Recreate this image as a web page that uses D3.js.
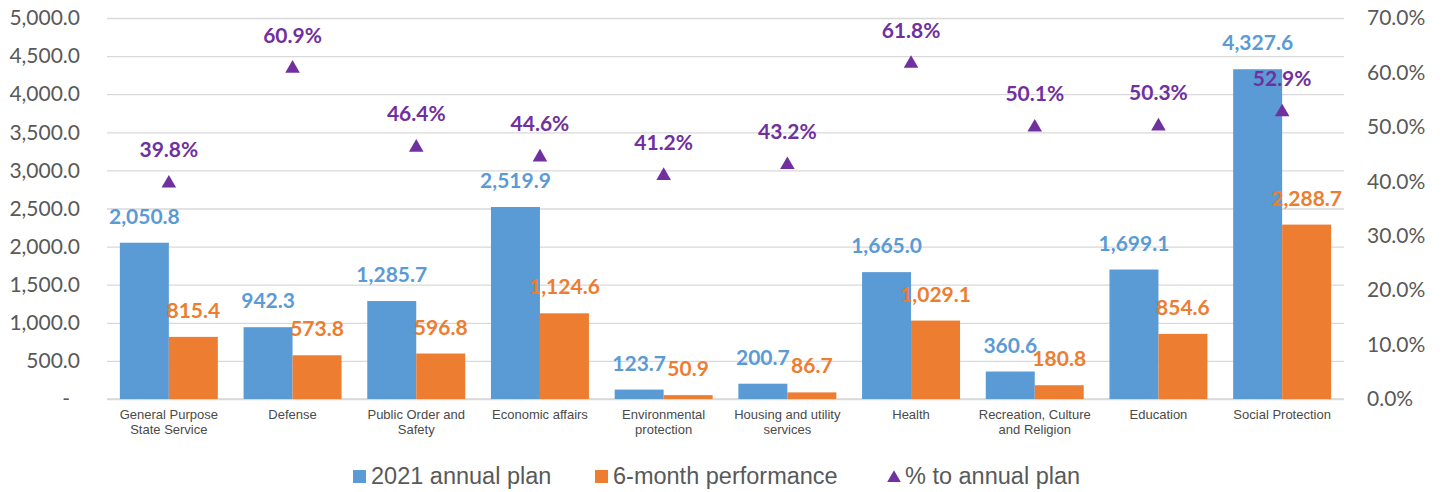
<!DOCTYPE html>
<html>
<head>
<meta charset="utf-8">
<script src="https://cdn.jsdelivr.net/npm/d3@7"></script>
<style>
  html, body { margin: 0; padding: 0; background: #ffffff; }
  svg { display: block; }
</style>
</head>
<body>
<svg id="chart" width="1443" height="492"></svg>
<script>
// Budget expenditure by function: 2021 annual plan vs 6-month performance
const categories = [
  "General Purpose State Service",
  "Defense",
  "Public Order and Safety",
  "Economic affairs",
  "Environmental protection",
  "Housing and utility services",
  "Health",
  "Recreation, Culture and Religion",
  "Education",
  "Social Protection"
];
const annualPlan = [2050.8, 942.3, 1285.7, 2519.9, 123.7, 200.7, 1665.0, 360.6, 1699.1, 4327.6];
const sixMonth   = [815.4, 573.8, 596.8, 1124.6, 50.9, 86.7, 1029.1, 180.8, 854.6, 2288.7];
const pctOfPlan  = [39.8, 60.9, 46.4, 44.6, 41.2, 43.2, 61.8, 50.1, 50.3, 52.9];

const leftTicks  = [0, 500, 1000, 1500, 2000, 2500, 3000, 3500, 4000, 4500, 5000];
const rightTicks = [0, 10, 20, 30, 40, 50, 60, 70];

const seriesNames = ["2021 annual plan", "6-month performance", "% to annual plan"];

const BLUE = "#5b9bd5", ORANGE = "#ed7d31", PURPLE = "#7030a0";
const GRID = "#d9d9d9", TEXT = "#595959";

const svg = d3.select("#chart");
const plot = { left: 107, right: 1344, top: 18, bottom: 399 };

const x = d3.scaleBand().domain(categories)
  .range([plot.left, plot.right]).paddingInner(0.208).paddingOuter(0.104);
const xs = d3.scaleBand().domain(["plan", "perf"]).range([0, x.bandwidth()]).padding(0);
const y = d3.scaleLinear().domain([0, 5000]).range([plot.bottom, plot.top]);
const y2 = d3.scaleLinear().domain([0, 70]).range([plot.bottom, plot.top]);

// Gridlines + left axis
const fmtLeft = d => d === 0 ? "-" : d3.format(",.1f")(d);
const leftAxis = svg.append("g")
  .attr("transform", `translate(${plot.left},0)`)
  .call(d3.axisLeft(y).tickValues(leftTicks).tickFormat(fmtLeft)
    .tickSize(-(plot.right - plot.left)).tickPadding(27));
leftAxis.select(".domain").remove();
leftAxis.selectAll(".tick line").attr("stroke", GRID).attr("stroke-width", 1.3);
leftAxis.selectAll(".tick text")
  .attr("fill", TEXT).style("font-family", "Lato, 'Open Sans', sans-serif").style("font-size", "21px")
  .attr("dx", d => d === 0 ? -10 : 0);

// Right axis (percent)
const rightAxis = svg.append("g")
  .attr("transform", `translate(${plot.right},0)`)
  .call(d3.axisRight(y2).tickValues(rightTicks).tickFormat(d => d3.format(".1f")(d) + "%")
    .tickSize(0).tickPadding(23));
rightAxis.select(".domain").remove();
rightAxis.selectAll(".tick text")
  .attr("fill", TEXT).style("font-family", "Lato, 'Open Sans', sans-serif").style("font-size", "21px");

// Baseline
svg.append("line")
  .attr("x1", plot.left).attr("x2", plot.right)
  .attr("y1", y(0)).attr("y2", y(0))
  .attr("stroke", GRID).attr("stroke-width", 1.5);

const rows = categories.map((c, i) => ({ c, plan: annualPlan[i], perf: sixMonth[i], pct: pctOfPlan[i] }));

// Bars
const groups = svg.append("g").selectAll("g").data(rows).join("g")
  .attr("transform", d => `translate(${x(d.c)},0)`);

groups.append("rect")
  .attr("x", xs("plan")).attr("width", xs.bandwidth())
  .attr("y", d => y(d.plan)).attr("height", d => y(0) - y(d.plan))
  .attr("fill", BLUE);
groups.append("rect")
  .attr("x", xs("perf")).attr("width", xs.bandwidth())
  .attr("y", d => y(d.perf)).attr("height", d => y(0) - y(d.perf))
  .attr("fill", ORANGE);

const labelFont = "Lato, 'Open Sans', sans-serif";
const fmtVal = d3.format(",.1f");

groups.append("text")
  .attr("x", xs("plan") + xs.bandwidth() / 2).attr("y", d => y(d.plan) - 19)
  .attr("text-anchor", "middle").attr("fill", BLUE)
  .style("font-family", labelFont).style("font-size", "21px").style("font-weight", 700)
  .text(d => fmtVal(d.plan));
groups.append("text")
  .attr("x", xs("perf") + xs.bandwidth() / 2).attr("y", d => y(d.perf) - 19)
  .attr("text-anchor", "middle").attr("fill", ORANGE)
  .style("font-family", labelFont).style("font-size", "21px").style("font-weight", 700)
  .text(d => fmtVal(d.perf));

// Percent markers
const tri = d3.symbol().type(d3.symbolTriangle).size(92);
const cx = d => x(d.c) + x.bandwidth() / 2;
svg.append("g").selectAll("path").data(rows).join("path")
  .attr("d", tri)
  .attr("transform", d => `translate(${cx(d)},${y2(d.pct) + 1})`)
  .attr("fill", PURPLE);
svg.append("g").selectAll("text").data(rows).join("text")
  .attr("x", cx).attr("y", d => y2(d.pct) - 25)
  .attr("text-anchor", "middle").attr("fill", PURPLE)
  .style("font-family", labelFont).style("font-size", "21px").style("font-weight", 700)
  .text(d => d3.format(".1f")(d.pct) + "%");

// Category labels, wrapped to the band step
const catG = svg.append("g");
const maxW = x.step();
categories.forEach(c => {
  const t = catG.append("text")
    .attr("x", x(c) + x.bandwidth() / 2).attr("y", 419)
    .attr("text-anchor", "middle").attr("fill", "#4a4a4a")
    .style("font-family", "'Liberation Sans', Arial, sans-serif").style("font-size", "13px");
  const words = c.split(" ");
  let line = [];
  let ts = t.append("tspan").attr("x", x(c) + x.bandwidth() / 2).attr("dy", 0);
  words.forEach(w => {
    line.push(w);
    ts.text(line.join(" "));
    if (ts.node().getComputedTextLength() > maxW - 4 && line.length > 1) {
      line.pop();
      ts.text(line.join(" "));
      line = [w];
      ts = t.append("tspan").attr("x", x(c) + x.bandwidth() / 2).attr("dy", 15).text(w);
    }
  });
});

// Legend
const legendFont = "'Liberation Sans', Arial, sans-serif";
const legend = svg.append("g");
const legX = [353, 595, 888];
const legY = 476;
legend.append("rect").attr("x", legX[0]).attr("y", legY - 6).attr("width", 13).attr("height", 13).attr("fill", BLUE);
legend.append("rect").attr("x", legX[1]).attr("y", legY - 6).attr("width", 13).attr("height", 13).attr("fill", ORANGE);
legend.append("path").attr("d", d3.symbol().type(d3.symbolTriangle).size(80))
  .attr("transform", `translate(${legX[2] + 6},${legY + 2})`).attr("fill", PURPLE);
seriesNames.forEach((s, i) => {
  legend.append("text")
    .attr("x", legX[i] + (i === 2 ? 17 : 18)).attr("y", legY + 8)
    .attr("fill", TEXT)
    .style("font-family", legendFont).style("font-size", "23.5px")
    .text(s);
});
</script>
</body>
</html>
